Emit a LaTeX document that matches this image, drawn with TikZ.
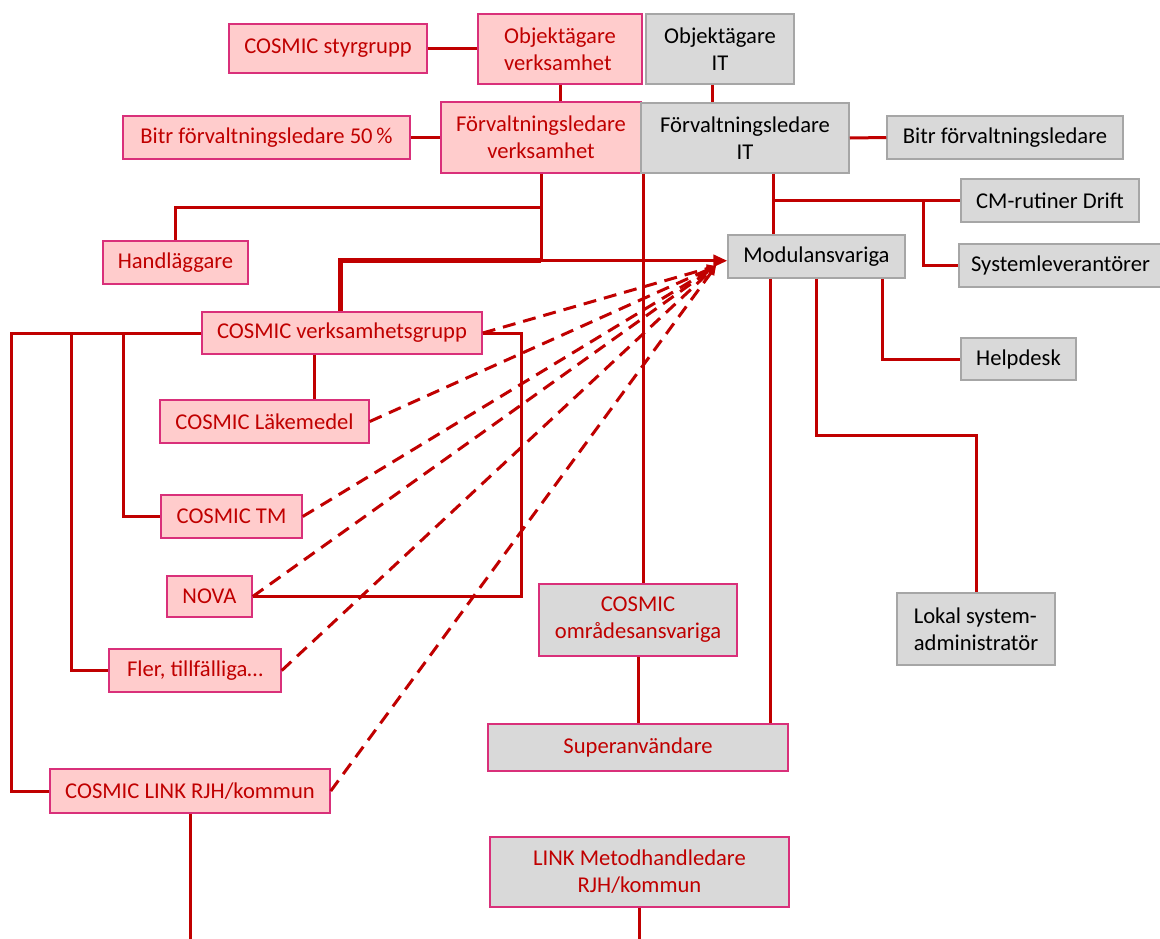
\documentclass[tikz,border=0pt]{standalone}
\usepackage{fontspec}
\setmainfont{Carlito}
\usetikzlibrary{arrows.meta}
\definecolor{linered}{HTML}{C00000}
\definecolor{boxpink}{HTML}{FFCCCC}
\definecolor{edgepink}{HTML}{D9307A}
\definecolor{boxgray}{HTML}{D9D9D9}
\definecolor{edgegray}{HTML}{A6A6A6}

\begin{document}
\begin{tikzpicture}[x=1pt, y=-1pt, font=\fontsize{22.6}{27}\selectfont]
        \tikzstyle{every node}=[rectangle, inner sep=0pt, align=center]
        \tikzstyle{pinkbox}=[fill=boxpink, draw=edgepink, line width=1.5pt, text=linered]
        \tikzstyle{graybox}=[fill=boxgray, draw=edgegray, line width=1.5pt, text=black]
        \tikzstyle{mixbox}=[fill=boxgray, draw=edgepink, line width=1.5pt, text=linered]
        \tikzstyle{conn}=[draw=linered, line width=3pt]
        \tikzstyle{thickconn}=[draw=linered, line width=5pt]
        \tikzstyle{dasharrow}=[draw=linered, line width=3pt, dash pattern=on 13pt off 8pt, -{Triangle[length=9pt,width=8pt]}]
        \useasboundingbox (0,0) rectangle (1160,938);
        % left side, verksamhet
        \node [pinkbox, minimum width=198, minimum height=49] (styr) at (328,48.5) {COSMIC styrgrupp};
        \node [pinkbox, minimum width=164, minimum height=70, align=left] (objv) at (560,49) {Objektägare\\verksamhet};
        \node [pinkbox, minimum width=200, minimum height=71] (forv) at (541,137.5) {Förvaltningsledare\\verksamhet};
        \node [pinkbox, minimum width=287, minimum height=43] (bitr50) at (266.5,137.5) {Bitr förvaltningsledare 50\,\%};
        \node [pinkbox, minimum width=145, minimum height=43] (hand) at (175.5,262.5) {Handläggare};
        \node [pinkbox, minimum width=280, minimum height=42] (vgrp) at (342,333) {COSMIC verksamhetsgrupp};
        \node [pinkbox, minimum width=209, minimum height=43] (lake) at (264.5,421.5) {COSMIC Läkemedel};
        \node [pinkbox, minimum width=141, minimum height=43] (tm) at (231.5,516.5) {COSMIC TM};
        \node [pinkbox, minimum width=85, minimum height=41] (nova) at (209.5,596.5) {NOVA};
        \node [pinkbox, minimum width=172, minimum height=43] (fler) at (195,670.5) {Fler, tillfälliga\dots};
        \node [pinkbox, minimum width=280, minimum height=44] (link) at (190,791) {COSMIC LINK RJH/kommun};
        % right side, IT
        \node [graybox, minimum width=148, minimum height=70] (objit) at (720,49) {Objektägare\\IT};
        \node [graybox, minimum width=208, minimum height=70] (forvit) at (745,138) {Förvaltningsledare\\IT};
        \node [graybox, minimum width=236, minimum height=43] (bitrit) at (1005,137.5) {Bitr förvaltningsledare};
        \node [graybox, minimum width=178, minimum height=43] (cm) at (1050,200.5) {CM-rutiner Drift};
        \node [graybox, minimum width=203, minimum height=43] (sysl) at (1060.5,265.5) {Systemleverantörer};
        \node [graybox, minimum width=177, minimum height=43] (mod) at (816.5,256.5) {Modulansvariga};
        \node [graybox, minimum width=115, minimum height=42] (help) at (1018.5,359) {Helpdesk};
        \node [graybox, minimum width=158, minimum height=72, align=left] (lokal) at (976,629) {Lokal system-\\administratör};
        \node [mixbox, minimum width=198, minimum height=72] (omr) at (638,620) {COSMIC\\områdesansvariga};
        \node [mixbox, minimum width=300, minimum height=47] (super) at (638,747.5) {Superanvändare};
        \node [mixbox, minimum width=299, minimum height=70] (linkmet) at (639.5,872) {LINK Metodhandledare\\RJH/kommun};

        \coordinate (j1) at ([yshift=-87]forv.south);
        \coordinate (fit) at ([xshift=28]forvit.south);
        \coordinate (dtip) at (716,266);
        % solid lines
        \draw [conn] (styr.east) -- (styr.east -| objv.west);
        \draw [conn] (objv.south) -- (objv.south |- forv.north);
        \draw [conn] (bitr50.east) -- (forv.west);
        \draw [conn] (forv.south) -- (j1);
        \draw [conn] ([yshift=-34]forv.south) -| (hand.north);
        \draw [thickconn] (j1) -| ([xshift=-2]vgrp.north);
        \draw [conn, -{Triangle[length=14pt,width=12pt]}] (j1) -- (j1 -| mod.west);
        \draw [conn] ([xshift=-8]objit.south) -- ([xshift=-8]objit.south |- forvit.north);
        \draw [conn] (forvit.east) -- (bitrit.west);
        \draw [conn] (fit) -- (fit |- mod.north);
        \draw [conn] (fit |- cm.west) -- (cm.west);
        \draw [conn] ([xshift=150]fit |- cm.west) |- (sysl.west);
        \draw [conn] ([xshift=3]forvit.south west) -- ([xshift=3]forvit.south west |- omr.north);
        \draw [conn] ([xshift=-46]mod.south) -- ([xshift=-46]mod.south |- super.north);
        \draw [conn] (mod.south) -- ++(0,157) -| (lokal.north);
        \draw [conn] ([xshift=66]mod.south) |- (help.west);
        \draw [conn] (vgrp.west) -- ++(-190,0) |- (link.west);
        \draw [conn] ([xshift=-130]vgrp.west) |- (fler.west);
        \draw [conn] ([xshift=-78]vgrp.west) |- (tm.west);
        \draw [conn] ([xshift=-28]vgrp.south) -- ([xshift=-28]vgrp.south |- lake.north);
        \draw [conn] (vgrp.east) -- ++(39,0) |- (nova.east);
        \draw [conn] (omr.south) -- (super.north);
        \draw [conn] (link.south) -- ++(0,125);
        \draw [conn] (linkmet.south) -- ++(0,31);
        % dashed lines to Modulansvariga
        \foreach \src in {vgrp, lake, tm, nova, fler, link}
            \draw [dasharrow] (\src.east) -- (dtip);
\end{tikzpicture}
\end{document}
